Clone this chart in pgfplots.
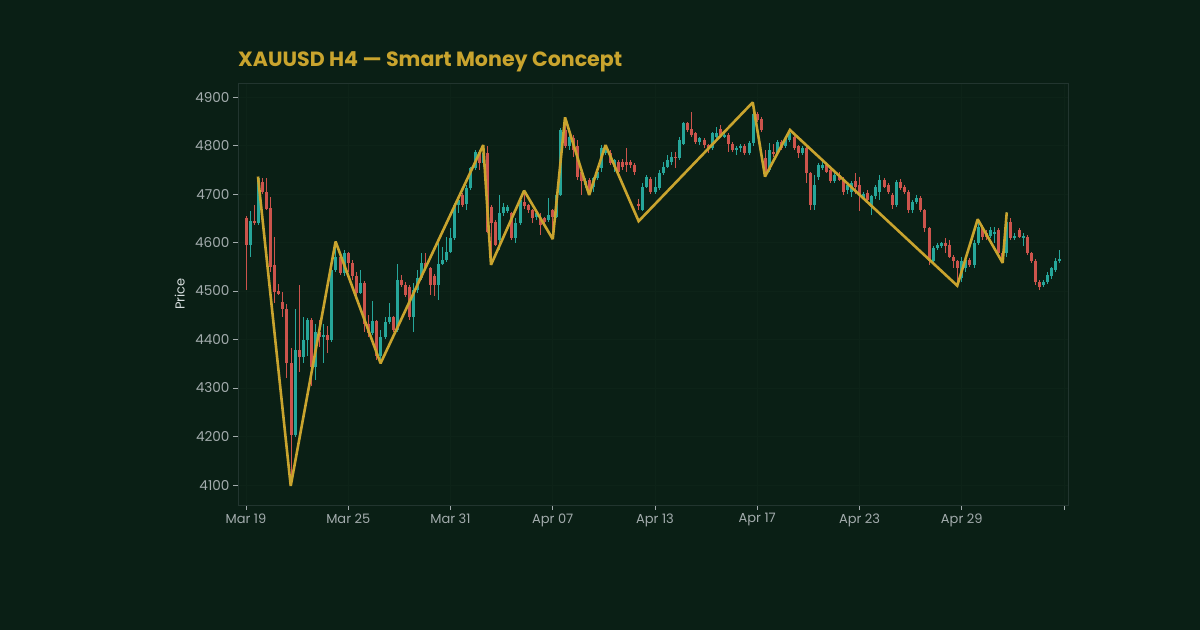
\documentclass[border=0pt]{standalone}
\usepackage{fontspec}
\setmainfont{Poppins}
\usepackage{pgfplots}
\usepackage{pgfplotstable}
\pgfplotsset{compat=1.18}
\definecolor{bg}{HTML}{0A1F15}
\definecolor{upc}{HTML}{26A69A}
\definecolor{dnc}{HTML}{CC544C}
\definecolor{gold}{HTML}{C9A42E}
\definecolor{framec}{HTML}{22352F}
\definecolor{tickc}{HTML}{A3ACAD}
\definecolor{labc}{HTML}{D5DCDC}
\definecolor{gridc}{HTML}{0D2318}

\pgfplotstableread{
i o h l c
0 4651 4655 4502 4594
1 4594 4664 4571 4644
2 4644 4677 4636 4640
3 4640 4736 4636 4734
4 4724 4734 4701 4705
5 4705 4734 4667 4670
6 4672 4693 4540 4550
7 4553 4612 4475 4499
8 4500 4514 4492 4494
9 4478 4499 4447 4462
10 4463 4473 4320 4351
11 4351 4382 4097 4203
12 4203 4462 4200 4378
13 4378 4512 4334 4363
14 4363 4447 4351 4398
15 4398 4445 4365 4440
16 4440 4445 4304 4344
17 4344 4433 4317 4415
18 4415 4440 4385 4406
19 4406 4433 4351 4410
20 4410 4427 4372 4398
21 4398 4546 4395 4543
22 4543 4602 4540 4571
23 4571 4578 4533 4537
24 4537 4585 4530 4578
25 4578 4580 4540 4557
26 4557 4564 4523 4530
27 4530 4540 4485 4495
28 4495 4543 4494 4517
29 4517 4521 4416 4433
30 4433 4450 4405 4414
31 4414 4480 4410 4439
32 4439 4441 4358 4365
33 4365 4420 4351 4405
34 4405 4447 4402 4437
35 4437 4475 4433 4446
36 4446 4449 4416 4420
37 4420 4556 4416 4523
38 4523 4532 4509 4513
39 4513 4519 4488 4492
40 4508 4512 4440 4447
41 4447 4516 4416 4502
42 4502 4543 4495 4526
43 4526 4579 4523 4557
44 4557 4578 4543 4547
45 4547 4550 4492 4512
46 4530 4535 4490 4512
47 4512 4598 4482 4556
48 4556 4591 4554 4564
49 4564 4612 4560 4581
50 4581 4629 4578 4609
51 4609 4681 4605 4677
52 4677 4690 4660 4688
53 4698 4702 4674 4677
54 4680 4719 4667 4712
55 4712 4756 4708 4753
56 4753 4791 4750 4787
57 4787 4791 4750 4763
58 4763 4801 4755 4785
59 4784 4798 4620 4622
60 4674 4677 4554 4640
61 4643 4646 4592 4595
62 4605 4698 4585 4660
63 4660 4681 4655 4674
64 4664 4677 4660 4674
65 4660 4663 4605 4609
66 4609 4650 4598 4640
67 4640 4691 4636 4688
68 4684 4707 4670 4675
69 4677 4680 4660 4667
70 4667 4670 4640 4650
71 4653 4667 4646 4660
72 4650 4660 4615 4636
73 4650 4653 4636 4643
74 4646 4691 4643 4657
75 4667 4670 4607 4653
76 4653 4702 4650 4698
77 4698 4836 4695 4832
78 4832 4858 4794 4798
79 4798 4822 4791 4818
80 4815 4822 4777 4790
81 4798 4811 4729 4736
82 4746 4750 4698 4726
83 4719 4732 4712 4726
84 4729 4732 4698 4708
85 4715 4736 4705 4732
86 4732 4753 4729 4746
87 4753 4801 4746 4794
88 4784 4801 4780 4797
89 4784 4790 4760 4763
90 4756 4773 4745 4770
91 4767 4770 4742 4746
92 4767 4773 4750 4756
93 4767 4794 4746 4760
94 4767 4770 4753 4760
95 4760 4763 4740 4746
96 4680 4690 4667 4675
97 4667 4722 4664 4715
98 4715 4740 4712 4736
99 4732 4736 4701 4705
100 4705 4736 4701 4715
101 4712 4750 4708 4743
102 4743 4767 4739 4756
103 4756 4780 4753 4770
104 4767 4787 4760 4777
105 4777 4787 4753 4774
106 4774 4818 4770 4811
107 4804 4849 4801 4846
108 4846 4849 4828 4832
109 4835 4870 4818 4822
110 4825 4828 4804 4808
111 4808 4818 4801 4815
112 4811 4815 4794 4801
113 4801 4804 4784 4794
114 4794 4828 4791 4825
115 4818 4839 4815 4825
116 4835 4842 4818 4822
117 4818 4828 4815 4822
118 4822 4825 4787 4804
119 4804 4808 4787 4791
120 4791 4798 4780 4795
121 4795 4803 4786 4800
122 4800 4804 4780 4785
123 4785 4810 4780 4805
124 4805 4889 4800 4866
125 4866 4870 4849 4853
126 4854 4858 4828 4832
127 4775 4791 4736 4746
128 4750 4805 4746 4791
129 4787 4804 4777 4784
130 4784 4811 4782 4808
131 4808 4811 4791 4794
132 4798 4818 4794 4815
133 4811 4832 4808 4825
134 4818 4822 4791 4794
135 4798 4801 4774 4784
136 4784 4798 4780 4794
137 4794 4798 4722 4743
138 4743 4746 4667 4677
139 4677 4739 4667 4719
140 4736 4763 4729 4760
141 4753 4767 4749 4760
142 4760 4763 4743 4746
143 4749 4753 4722 4726
144 4726 4743 4722 4739
145 4739 4746 4726 4729
146 4729 4736 4698 4705
147 4708 4722 4701 4719
148 4705 4726 4694 4722
149 4726 4743 4701 4715
150 4719 4736 4664 4698
151 4692 4705 4688 4701
152 4703 4708 4684 4688
153 4674 4698 4657 4695
154 4695 4719 4690 4715
155 4705 4739 4688 4729
156 4729 4732 4712 4715
157 4719 4722 4700 4705
158 4698 4702 4670 4677
159 4677 4729 4674 4725
160 4725 4732 4708 4712
161 4715 4719 4701 4705
162 4705 4708 4660 4667
163 4667 4688 4660 4684
164 4684 4698 4680 4691
165 4691 4695 4663 4667
166 4667 4670 4622 4629
167 4629 4633 4554 4561
168 4561 4592 4557 4588
169 4588 4599 4585 4595
170 4592 4602 4588 4598
171 4598 4609 4578 4593
172 4595 4605 4568 4571
173 4571 4575 4547 4561
174 4561 4564 4511 4547
175 4526 4571 4519 4561
176 4547 4571 4540 4564
177 4564 4568 4550 4554
178 4554 4605 4547 4598
179 4598 4648 4595 4633
180 4630 4636 4605 4612
181 4619 4626 4605 4612
182 4613 4633 4609 4626
183 4619 4633 4598 4622
184 4626 4630 4570 4578
185 4578 4582 4558 4565
186 4578 4662 4571 4643
187 4643 4650 4605 4609
188 4609 4619 4605 4614
189 4626 4629 4609 4612
190 4610 4619 4592 4613
191 4612 4615 4575 4578
192 4578 4581 4557 4561
193 4561 4565 4512 4519
194 4519 4523 4502 4508
195 4512 4522 4508 4518
196 4519 4540 4515 4533
197 4530 4550 4525 4547
198 4543 4568 4540 4561
199 4561 4585 4557 4567
}\candles

\begin{document}
\begin{tikzpicture}[x=1pt,y=1pt]
\fill[bg] (0,0) rectangle (1200,630);
\node[anchor=base west, text=gold, font=\fontsize{20.6}{24}\selectfont\bfseries, inner sep=0pt] at (238,563) {XAUUSD H4 — Smart Money Concept};
\begin{axis}[
  at={(238pt,125pt)}, anchor=south west,
  scale only axis, width=830pt, height=422pt,
  xmin=-1.96, xmax=200.98, ymin=4058.8, ymax=4928.9,
  axis line style={framec, line width=0.8pt},
  tick style={tickc, line width=0.8pt},
  major tick length=5pt,
  tick align=outside,
  xtick={0,25,...,200},
  xticklabels={Mar 19,Mar 25,Mar 31,Apr 07,Apr 13,Apr 17,Apr 23,Apr 29,{}},
  ytick={4100,4200,...,4900},
  xtick pos=bottom, ytick pos=left,
  ticklabel style={font=\fontsize{13}{15}\selectfont, text=tickc},
  yticklabel style={font=\fontsize{13.6}{15}\selectfont},
  /pgf/number format/assume math mode=true,
  /pgf/number format/set thousands separator={},
  ylabel={Price},
  ylabel style={at={(axis description cs:0,0.5)}, anchor=south, yshift=53pt, inner sep=0pt, font=\fontsize{13}{15}\selectfont, text=labc},
  grid=major, grid style={gridc, line width=0.6pt},
]
% wicks
\addplot[draw=none, no markers, forget plot, error bars/.cd, y dir=both, y explicit, error mark=none, error bar style={draw=dnc, line width=1pt}]
  table[x=i, y expr={\thisrow{c}<\thisrow{o} ? (\thisrow{h}+\thisrow{l})/2 : nan}, y error expr={(\thisrow{h}-\thisrow{l})/2}] {\candles};
\addplot[draw=none, no markers, forget plot, error bars/.cd, y dir=both, y explicit, error mark=none, error bar style={draw=upc, line width=1pt}]
  table[x=i, y expr={\thisrow{c}>\thisrow{o} ? (\thisrow{h}+\thisrow{l})/2 : nan}, y error expr={(\thisrow{h}-\thisrow{l})/2}] {\candles};
% bodies
\addplot[draw=none, no markers, forget plot, error bars/.cd, y dir=both, y explicit, error mark=none, error bar style={draw=dnc, line width=3pt}]
  table[x=i, y expr={\thisrow{c}<\thisrow{o} ? (\thisrow{o}+\thisrow{c})/2 : nan}, y error expr={abs(\thisrow{o}-\thisrow{c})/2}] {\candles};
\addplot[draw=none, no markers, forget plot, error bars/.cd, y dir=both, y explicit, error mark=none, error bar style={draw=upc, line width=3pt}]
  table[x=i, y expr={\thisrow{c}>\thisrow{o} ? (\thisrow{o}+\thisrow{c})/2 : nan}, y error expr={abs(\thisrow{o}-\thisrow{c})/2}] {\candles};
% zigzag
\addplot[gold, line width=2.6pt, line join=miter, miter limit=2, mark=none] coordinates {
(2.93,4736) (10.93,4098) (21.9,4602) (32.9,4351) (58,4801) (59.9,4554) (68,4707) (75,4607) (78,4858) (83.9,4698) (87.9,4801) (96,4644) (123.9,4889) (126.9,4736) (133,4832) (173.9,4511) (178.9,4648) (185,4558) (186,4662)
};
\end{axis}
\end{tikzpicture}
\end{document}
